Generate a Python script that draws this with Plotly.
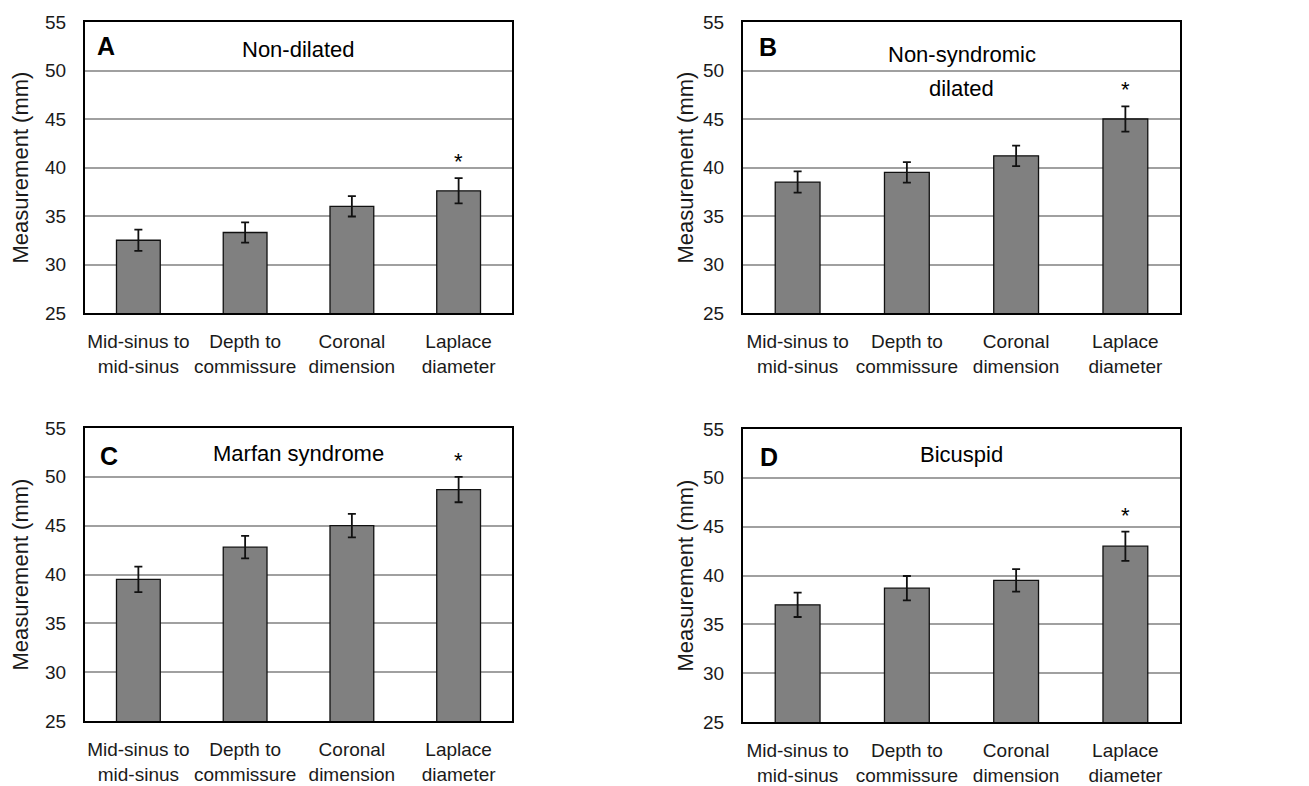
import plotly.graph_objects as go

categories = ["Mid-sinus to<br>mid-sinus", "Depth to<br>commissure", "Coronal<br>dimension", "Laplace<br>diameter"]
panel_letters = ["A", "B", "C", "D"]
panel_titles = [["Non-dilated"], ["Non-syndromic", "dilated"], ["Marfan syndrome"], ["Bicuspid"]]

means_A = [32.5, 33.3, 36.0, 37.6]
err_A = [1.1, 1.05, 1.05, 1.3]
means_B = [38.5, 39.5, 41.2, 45.0]
err_B = [1.1, 1.05, 1.05, 1.3]
means_C = [39.5, 42.8, 45.0, 48.7]
err_C = [1.3, 1.15, 1.2, 1.3]
means_D = [37.0, 38.7, 39.5, 43.0]
err_D = [1.25, 1.25, 1.15, 1.5]
significant = [False, False, False, True]

y_ticks = [25, 30, 35, 40, 45, 50, 55]
y_title = "Measurement (mm)"

# page body has an 8px margin; figure placed at (8, 8) in the window
OFF = 8
W, H = 1309 - 2 * OFF, 786 - OFF
FONT = "Liberation Sans, Arial, sans-serif"

# plot-area boxes in window pixels (left, right, top, bottom)
boxes = [(85, 512, 22, 313), (743, 1180, 22, 313), (85, 512, 428, 721), (743, 1180, 429, 722)]
ytitle_x = [20, 685, 20, 685]
letter_pos = [(95, 46), (757, 47), (98, 456), (758, 457)]
title_lines_y = [[50], [54, 88], [453], [455]]

means_all = [means_A, means_B, means_C, means_D]
errs_all = [err_A, err_B, err_C, err_D]


def px(x):
    return (x - OFF) / W


def py(y):
    return 1 - (y - OFF) / H


fig = go.Figure()
annotations = []
for i in range(4):
    l, r, t, b = boxes[i]
    sfx = "" if i == 0 else str(i + 1)
    xa, ya = "x" + sfx, "y" + sfx
    fig.add_trace(go.Bar(
        x=categories, y=means_all[i], xaxis=xa, yaxis=ya, width=0.41,
        marker=dict(color="#808080", line=dict(color="#111111", width=1.3)),
        error_y=dict(type="data", array=errs_all[i], color="#111111", thickness=1.8, width=4),
        showlegend=False, hoverinfo="skip",
    ))
    fig.layout["xaxis" + sfx] = dict(
        domain=[px(l), px(r)], anchor=ya, showline=True, mirror=True, linecolor="black", linewidth=2,
        ticks="", tickfont=dict(family=FONT, size=19, color="#1a1a1a"), ticklabelstandoff=10,
        showgrid=False, zeroline=False, automargin=False, fixedrange=True,
    )
    fig.layout["yaxis" + sfx] = dict(
        domain=[py(b), py(t)], anchor=xa, range=[25, 55], tickvals=y_ticks, showline=True, mirror=True,
        linecolor="black", linewidth=2, ticks="", showgrid=True, gridcolor="#a0a0a0", gridwidth=1.5,
        tickfont=dict(family=FONT, size=19, color="#1a1a1a"), ticklabelstandoff=13, zeroline=False,
        automargin=False, fixedrange=True,
    )
    annotations.append(dict(
        text=y_title, xref="paper", yref="paper", x=px(ytitle_x[i]), y=py((t + b) / 2),
        textangle=-90, showarrow=False, font=dict(family=FONT, size=22, color="#1a1a1a"),
        xanchor="center", yanchor="middle",
    ))
    lx, ly = letter_pos[i]
    annotations.append(dict(
        text="<b>" + panel_letters[i] + "</b>", xref="paper", yref="paper",
        x=px(lx), y=py(ly), showarrow=False,
        font=dict(family=FONT, size=25, color="black"), xanchor="left", yanchor="middle",
    ))
    for line, ty in zip(panel_titles[i], title_lines_y[i]):
        annotations.append(dict(
            text=line, xref="paper", yref="paper",
            x=px((l + r) / 2), y=py(ty), showarrow=False,
            font=dict(family=FONT, size=22, color="black"), xanchor="center", yanchor="middle",
        ))
    for j, cat in enumerate(categories):
        if significant[j]:
            annotations.append(dict(
                text="*", xref=xa, yref=ya, x=cat, y=means_all[i][j] + errs_all[i][j],
                showarrow=False, font=dict(family=FONT, size=22, color="black"),
                xanchor="center", yanchor="bottom", yshift=2,
            ))

fig.update_layout(
    width=W, height=H, margin=dict(l=0, r=0, t=0, b=0, autoexpand=False),
    paper_bgcolor="white", plot_bgcolor="white", annotations=annotations,
)
fig.write_html("out.html")
